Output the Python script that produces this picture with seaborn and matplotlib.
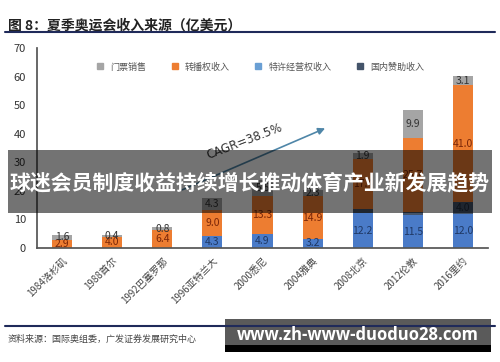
import numpy as np
import pandas as pd
import matplotlib
matplotlib.use('Agg')
import matplotlib.pyplot as plt
import seaborn as sns
from matplotlib.lines import Line2D
from matplotlib.patches import Rectangle

games = ['1984洛杉矶', '1988首尔', '1992巴塞罗那', '1996亚特兰大', '2000悉尼',
         '2004雅典', '2008北京', '2012伦敦', '2016里约']
franchise = [0, 0, 0, 4.3, 4.9, 3.2, 12.2, 11.5, 12.0]     # bottom blue
sponsor = [0, 0, 0, 0, 0, 0, 1.6, 1.2, 4.0]               # thin dark layer
broadcast = [2.9, 4.0, 6.4, 9.0, 13.3, 14.9, 17.4, 25.7, 41.0]
tickets = [1.6, 0.4, 0.8, 4.3, 5.5, 2.3, 1.9, 9.9, 3.1]

legend_names = ['门票销售', '转播权收入', '特许经营权收入', '国内赞助收入']

sns.set_theme(style='white')
plt.rcParams['font.family'] = ['Noto Sans CJK SC', 'DejaVu Sans']

# layers bottom -> top: values, bar colour, label colour, smallest labelled value
layers = [
    (franchise, '#4a7bc8', '#1f3864', 0.1),
    (sponsor, '#44546a', '#1f2a3a', 3.0),
    (broadcast, '#ed7d31', '#7a2608', 0.1),
    (tickets, '#a5a5a5', '#333333', 0.1),
]
df = pd.DataFrame({'game': games})
cum = np.zeros(len(games))
cums = []
for vals, _, _, _ in layers:
    cum = cum + np.array(vals)
    cums.append(cum.copy())

fig = plt.figure(figsize=(5, 3.62), dpi=100)
ax = fig.add_axes([0.074, 0.315, 0.902, 0.552])

# draw cumulative totals from the top layer down so they stack
for (vals, color, _, _), top in reversed(list(zip(layers, cums))):
    df['top'] = top
    sns.barplot(data=df, x='game', y='top', color=color, width=0.4,
                saturation=1, ax=ax, linewidth=0)

for (vals, _, tcolor, vmin), top in zip(layers, cums):
    for i, v in enumerate(vals):
        if v >= vmin:
            ax.text(i, top[i] - v / 2, f'{v:.1f}', ha='center', va='center',
                    fontsize=7.5, color=tcolor)

ax.set_ylim(0, 70)
ax.set_yticks(range(0, 71, 10))
ax.set_xlabel('')
ax.set_ylabel('')
for s in ['top', 'right']:
    ax.spines[s].set_visible(False)
ax.spines['left'].set_color('#555555')
ax.spines['bottom'].set_color('#555555')
ax.tick_params(axis='y', direction='in', length=3, labelsize=8,
               labelcolor='#333333', color='#555555', pad=8)
ax.tick_params(axis='x', direction='out', length=2, labelsize=7,
               labelcolor='#444444', color='#555555')
plt.setp(ax.get_xticklabels(), rotation=45, ha='right', rotation_mode='anchor')

# CAGR arrow
ax.annotate('', xy=(5.3, 42.3), xytext=(2.35, 20),
            arrowprops=dict(arrowstyle='-|>', color='#4f86a8', lw=1.2,
                            mutation_scale=10))
ax.text(3.65, 37.5, 'CAGR=38.5%', rotation=21, fontsize=8.5, color='#333333',
        ha='center', va='center', family='DejaVu Sans')

handles = [Line2D([], [], marker='s', linestyle='', markersize=4, color=c)
           for c in ['#a5a5a5', '#ed7d31', '#6a9fd4', '#44546a']]
leg = fig.legend(handles, legend_names, loc='center', bbox_to_anchor=(0.515, 0.815),
                 ncol=4, frameon=False, fontsize=6.5, handletextpad=0.1,
                 columnspacing=2.2)
for t in leg.get_texts():
    t.set_color('#555555')

# title and rules
fig.text(0.016, 0.93, '图 8：夏季奥运会收入来源（亿美元）', fontsize=10,
         fontweight='bold', color='#222222', va='center')
fig.add_artist(Line2D([0.01, 0.99], [0.912, 0.912], color='#1f2a5a', lw=1.5))
fig.add_artist(Line2D([0.01, 0.99], [0.099, 0.099], color='#1f2a5a', lw=1.5))
fig.text(0.016, 0.062, '资料来源：国际奥组委，广发证券发展研究中心', fontsize=6.5,
         color='#444444', va='center')

# overlay banner
fig.add_artist(Rectangle((0.016, 0.412), 0.968, 0.174, transform=fig.transFigure,
                         color='black', alpha=0.55, lw=0))
fig.text(0.5, 0.494, '球迷会员制度收益持续增长推动体育产业新发展趋势',
         fontsize=15, fontweight='bold', color='white', ha='center', va='center')

# watermark box
fig.add_artist(Rectangle((0.45, 0.028), 0.532, 0.091, transform=fig.transFigure,
                         color='#5a5a5a', lw=0))
fig.add_artist(Rectangle((0.45, 0.028), 0.532, 0.018, transform=fig.transFigure,
                         color='black', lw=0))
fig.text(0.716, 0.075, 'www.zh-www-duoduo28.com', fontsize=12,
         fontweight='bold', color='white', ha='center', va='center',
         family='Open Sans')

fig.savefig('out.png', dpi=100)
